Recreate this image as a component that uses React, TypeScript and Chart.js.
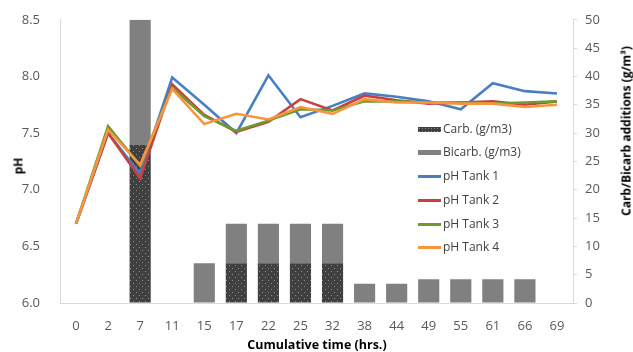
import React, { useEffect, useRef } from "react";
import { Chart, registerables } from "chart.js";

Chart.register(...registerables);

const categories = ["0", "2", "7", "11", "15", "17", "22", "25", "32", "38", "44", "49", "55", "61", "66", "69"];
const carb = [null, null, 28, null, null, 7, 7, 7, 7, null, null, null, null, null, null, null];
const bicarb = [null, null, 22, null, 7, 7, 7, 7, 7, 3.4, 3.4, 4.2, 4.2, 4.2, 4.2, null];
const tank1 = [6.7, 7.5, 7.14, 7.99, 7.75, 7.5, 8.01, 7.64, 7.74, 7.85, 7.82, 7.78, 7.71, 7.94, 7.87, 7.85];
const tank2 = [6.7, 7.5, 7.1, 7.93, 7.66, 7.51, 7.6, 7.8, 7.7, 7.83, 7.79, 7.76, 7.77, 7.78, 7.75, 7.78];
const tank3 = [6.7, 7.56, 7.21, 7.9, 7.65, 7.52, 7.61, 7.71, 7.7, 7.78, 7.78, 7.77, 7.77, 7.76, 7.77, 7.78];
const tank4 = [6.7, 7.53, 7.22, 7.89, 7.58, 7.67, 7.62, 7.73, 7.67, 7.8, 7.77, 7.77, 7.76, 7.76, 7.73, 7.75];

const COLORS = {
  t1: "#4a7fc1",
  t2: "#c8413f",
  t3: "#6e9a2e",
  t4: "#f7963e",
  bicarb: "#808080",
  carb: "#404040",
};

const FONT = "'Open Sans', 'Liberation Sans', sans-serif";

function makePattern(): CanvasPattern | string {
  const c = document.createElement("canvas");
  c.width = 6;
  c.height = 6;
  const ctx = c.getContext("2d");
  if (!ctx) return COLORS.carb;
  ctx.fillStyle = COLORS.carb;
  ctx.fillRect(0, 0, 6, 6);
  ctx.fillStyle = "#8a8a8a";
  ctx.fillRect(1, 1, 1, 1);
  ctx.fillRect(4, 4, 1, 1);
  const p = ctx.createPattern(c, "repeat");
  return p || COLORS.carb;
}

const legendItems = [
  { label: "Carb. (g/m3)", kind: "carb" },
  { label: "Bicarb. (g/m3)", kind: "bicarb" },
  { label: "pH Tank 1", kind: "line", color: COLORS.t1 },
  { label: "pH Tank 2", kind: "line", color: COLORS.t2 },
  { label: "pH Tank 3", kind: "line", color: COLORS.t3 },
  { label: "pH Tank 4", kind: "line", color: COLORS.t4 },
];

export default function App() {
  const ref = useRef<HTMLCanvasElement>(null);

  useEffect(() => {
    if (!ref.current) return;
    const pattern = makePattern();
    const lineDs = (label: string, data: number[], color: string, order: number) => ({
      type: "line" as const,
      label,
      data,
      yAxisID: "y",
      borderColor: color,
      backgroundColor: color,
      borderWidth: 2.6,
      pointRadius: 0,
      tension: 0,
      order,
    });
    const chart = new Chart(ref.current, {
      type: "bar",
      data: {
        labels: categories,
        datasets: [
          {
            type: "bar",
            label: "Carb. (g/m3)",
            data: carb as any,
            yAxisID: "y1",
            backgroundColor: pattern as any,
            stack: "s",
            order: 5,
            categoryPercentage: 1,
            barPercentage: 0.66,
          },
          {
            type: "bar",
            label: "Bicarb. (g/m3)",
            data: bicarb as any,
            yAxisID: "y1",
            backgroundColor: COLORS.bicarb,
            stack: "s",
            order: 6,
            categoryPercentage: 1,
            barPercentage: 0.66,
          },
          lineDs("pH Tank 1", tank1, COLORS.t1, 4),
          lineDs("pH Tank 2", tank2, COLORS.t2, 3),
          lineDs("pH Tank 3", tank3, COLORS.t3, 2),
          lineDs("pH Tank 4", tank4, COLORS.t4, 1),
        ] as any,
      },
      options: {
        responsive: false,
        animation: false,
        layout: { padding: { top: 19, left: 0, right: 0, bottom: 0 } },
        plugins: { legend: { display: false }, tooltip: { enabled: false } },
        scales: {
          x: {
            stacked: true,
            grid: { display: false },
            border: { display: true, color: "#d9d9d9", width: 1 },
            ticks: { color: "#595959", font: { family: FONT, size: 13 }, padding: 7, maxRotation: 0 },
            afterFit: (s: any) => {
              s.height = 49;
            },
          },
          y: {
            position: "left",
            min: 6,
            max: 8.5,
            grid: { display: false },
            border: { display: true, color: "#d9d9d9", width: 1 },
            ticks: {
              stepSize: 0.5,
              color: "#595959",
              font: { family: FONT, size: 13 },
              padding: 12,
              callback: (v: any) => Number(v).toFixed(1),
            },
            afterFit: (s: any) => {
              s.width = 60;
            },
          },
          y1: {
            position: "right",
            stacked: true,
            min: 0,
            max: 50,
            grid: { display: true, drawOnChartArea: false, drawTicks: true, tickLength: 4, color: "#d9d9d9" },
            border: { display: true, color: "#d9d9d9", width: 1 },
            ticks: { stepSize: 5, color: "#595959", font: { family: FONT, size: 13 }, padding: 8 },
            afterFit: (s: any) => {
              s.width = 60;
            },
          },
        },
      } as any,
    });
    return () => chart.destroy();
  }, []);

  const legendTop = [129, 152, 176, 200, 224, 247];

  return (
    <div style={{ position: "fixed", left: 0, top: 0, width: 633, height: 352, background: "#fff", fontFamily: FONT }}>
      <canvas ref={ref} width={633} height={352} style={{ display: "block" }} />
      {legendItems.map((it, i) => (
        <div key={it.label} style={{ position: "absolute", left: 418, top: legendTop[i] - 8, height: 16, display: "flex", alignItems: "center" }}>
          {it.kind === "line" ? (
            <div style={{ width: 23, height: 3, background: it.color }} />
          ) : (
            <div
              style={{
                width: 23,
                height: 5,
                backgroundColor: it.kind === "carb" ? COLORS.carb : COLORS.bicarb,
                backgroundImage: it.kind === "carb" ? "radial-gradient(#8a8a8a 0.6px, transparent 0.7px)" : "none",
                backgroundSize: "3px 3px",
              }}
            />
          )}
          <span style={{ marginLeft: 2, fontSize: 12, color: "#404040", lineHeight: "16px", whiteSpace: "nowrap" }}>{it.label}</span>
        </div>
      ))}
      <div style={{ position: "absolute", left: 18, top: 166, transform: "translate(-50%, -50%) rotate(-90deg)", fontWeight: "bold", fontSize: 12, color: "#000", whiteSpace: "nowrap" }}>pH</div>
      <div style={{ position: "absolute", left: 626, top: 131, transform: "translate(-50%, -50%) rotate(-90deg)", fontWeight: "bold", fontSize: 12, color: "#000", whiteSpace: "nowrap" }}>
        Carb/Bicarb additions (g/m³)
      </div>
      <div style={{ position: "absolute", left: 317, top: 344, transform: "translate(-50%, -50%)", fontWeight: "bold", fontSize: 12.5, color: "#000", whiteSpace: "nowrap" }}>
        Cumulative time (hrs.)
      </div>
    </div>
  );
}
